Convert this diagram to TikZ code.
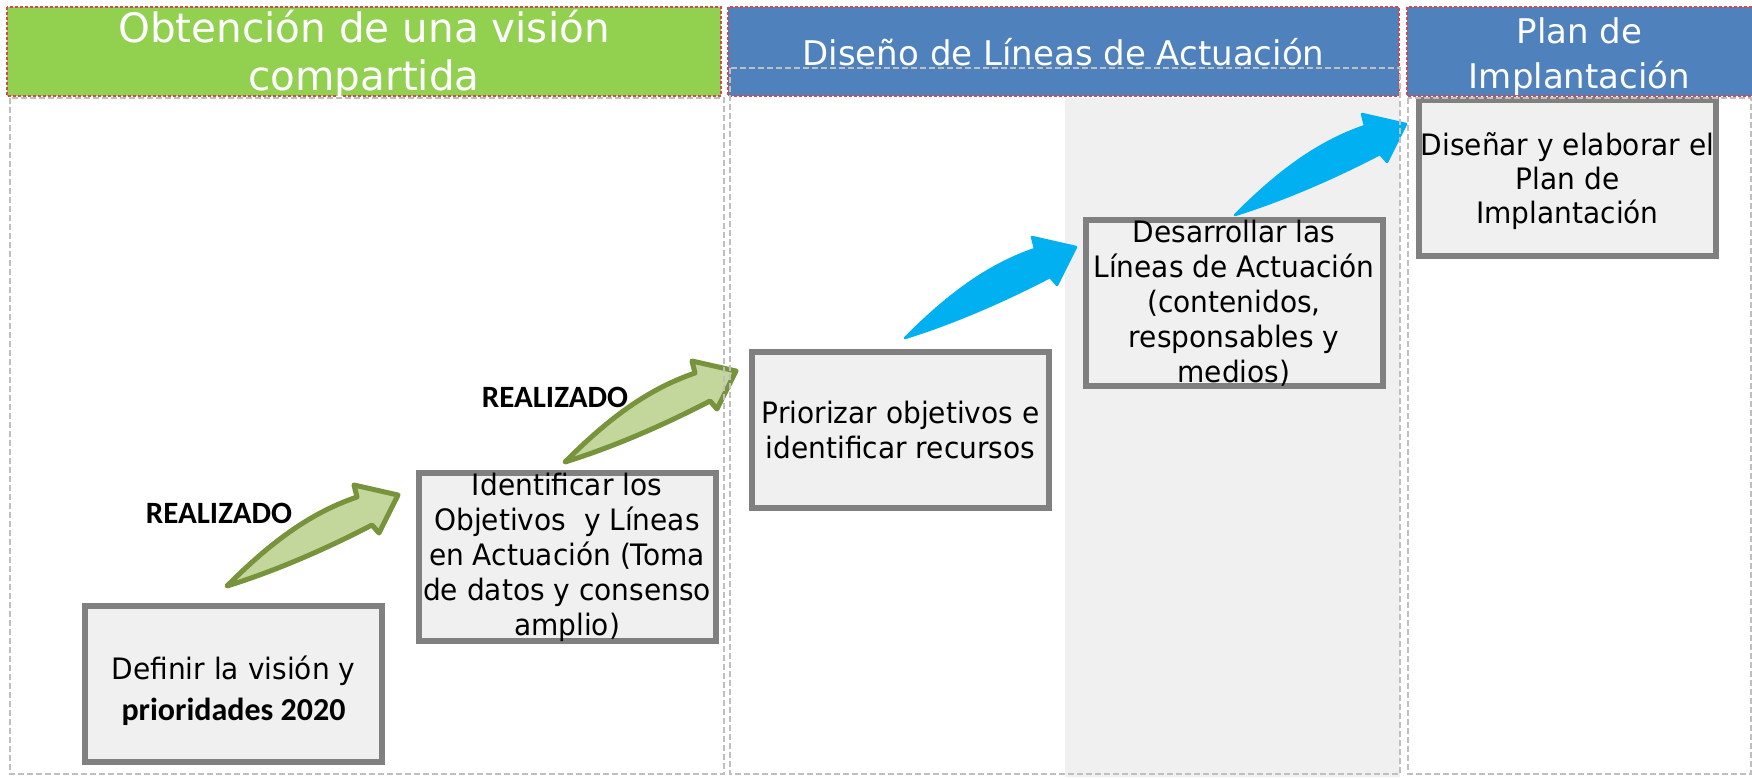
\documentclass[tikz,border=0pt]{standalone}
\usepackage{fontspec}
\setmainfont{DejaVu Sans}
\newfontfamily\boxfont[FakeStretch=0.95]{DejaVu Sans}
\newfontfamily\calib{Carlito}
\definecolor{hgreen}{HTML}{92D050}
\definecolor{hblue}{HTML}{4F81BD}
\definecolor{reddot}{HTML}{D04A50}
\definecolor{boxgray}{HTML}{808080}
\definecolor{boxfill}{HTML}{F0F0F0}
\definecolor{areagray}{HTML}{F0F0F0}
\definecolor{dashgray}{HTML}{BFBFBF}
\definecolor{gfill}{HTML}{C3D69B}
\definecolor{gline}{HTML}{77933C}
\definecolor{sky}{HTML}{00B0F0}
\begin{document}
\begin{tikzpicture}[x=1pt,y=-1pt,
  header/.style={draw=reddot, line width=2.6, dash pattern=on 2.6pt off 2.4pt},
  htext/.style={text=white, align=center, inner sep=0},
  box/.style={draw=boxgray, line width=6, fill=boxfill, minimum width=297,
    minimum height=156, inner sep=0, align=center,
    font=\boxfont\fontsize{29.5}{35}\selectfont},
  colbox/.style={draw=dashgray, line width=1.5, dash pattern=on 6pt off 3pt},
  done/.style={font=\calib\bfseries\fontsize{31}{34}\selectfont, inner sep=0},
  greenarrow/.style={fill=gfill, draw=gline, line width=5, line join=round},
  bluearrow/.style={fill=sky, draw=sky, line width=2.5, line join=round},
  pics/swoosh/.style={code={
    \path[pic actions] (0,0) .. controls (40,-40) and (80,-72) .. (130,-89)
      -- (127,-101) -- (171,-91) -- (152,-53) -- (145,-61)
      .. controls (95,-35) and (45,-14) .. (0,0) -- cycle;}}
]
\useasboundingbox (0,0) rectangle (1752,777);
\fill[white] (0,0) rectangle (1752,777);
% grey area of the middle column
\fill[areagray] (1065,98) rectangle (1400,777);
% headers
\path[header, fill=hgreen] (7,7) rectangle (721,96);
\node[htext, font=\fontsize{40.5}{48}\selectfont] (h1) at (364,55)
  {Obtención de una visión\\compartida};
\path[header, fill=hblue] (728,7) rectangle (1399,96);
\node[htext, font=\fontsize{34}{40}\selectfont] (h2) at (1063.5,52)
  {Diseño de Líneas de Actuación};
\path[header, fill=hblue] (1407,7) rectangle (1758,96);
\node[htext, font=\fontsize{34}{45}\selectfont] (h3) at (1579.5,57)
  {Plan de\\Implantación};
% step boxes
\node[box] (b1) at (233.5,684) {};
\node[align=center, inner sep=0, font=\boxfont\fontsize{29.5}{35}\selectfont]
  (t1) at (233.5,691)
  {Definir la visión y\\[6pt]{\calib\bfseries\fontsize{32}{34}\selectfont prioridades 2020}};
\node[box] (b2) at (567,557)
  {Identificar los\\Objetivos\ \ y Líneas\\en Actuación (Toma\\de datos y consenso\\amplio)};
\node[box] (b3) at (900.5,430)
  {Priorizar objetivos e\\identificar recursos};
\node[box] (b4) at (1234,303)
  {Desarrollar las\\Líneas de Actuación\\(contenidos,\\responsables y\\medios)};
\node[box] (b5) at (1567.5,178) {};
\node[align=center, inner sep=0, font=\boxfont\fontsize{29.5}{34}\selectfont]
  (t5) at (1567.5,181)
  {Diseñar y elaborar el\\Plan de\\Implantación};
% arrows
\pic[greenarrow] (a1) at (227,586) {swoosh};
\pic[greenarrow] (a2) at (565,462) {swoosh};
\pic[bluearrow] (a3) at (905,338) {swoosh};
\pic[bluearrow] (a4) at (1235,215) {swoosh};
% labels
\node[done] (r1) at (219,513) {REALIZADO};
\node[done] (r2) at (555,397) {REALIZADO};
% dashed column frames
\draw[colbox] (10,98) rectangle (724,774);
\draw[colbox] (730,68) rectangle (1400,774);
\draw[colbox] (1408,98) rectangle (1751,774);
\end{tikzpicture}
\end{document}
